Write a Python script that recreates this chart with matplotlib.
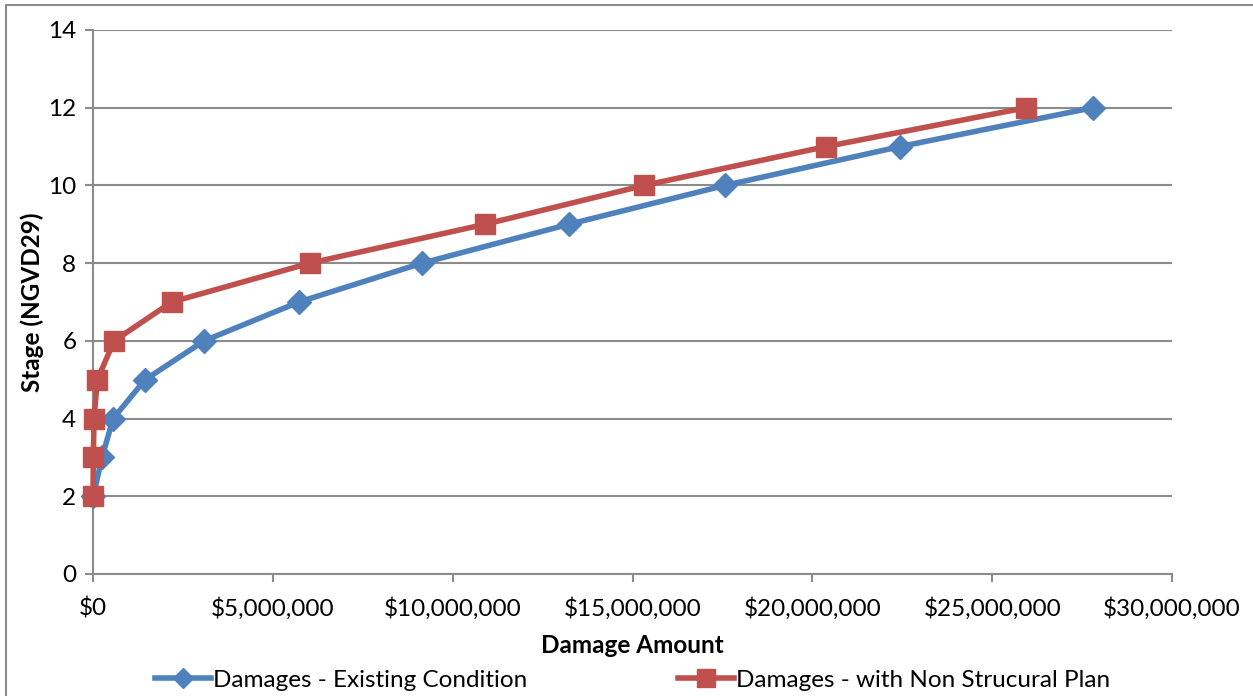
import matplotlib
matplotlib.use('Agg')
import matplotlib.pyplot as plt
from matplotlib.ticker import FuncFormatter, MultipleLocator
from matplotlib.patches import Rectangle

# stage-damage curves
stage = [2, 3, 4, 5, 6, 7, 8, 9, 10, 11, 12]
damage_existing = [10000, 250000, 560000, 1450000, 3090000, 5730000,
                   9150000, 13230000, 17570000, 22440000, 27800000]
damage_nonstruct = [0, 10000, 30000, 120000, 590000, 2190000,
                    6030000, 10900000, 15320000, 20380000, 25940000]

plt.rcParams['font.family'] = ['Lato', 'DejaVu Sans']
FS = 17.5

fig = plt.figure(figsize=(12.53, 6.96), dpi=100)
ax = fig.add_axes([0.0742, 0.1753, 0.9354 - 0.0742, 0.9569 - 0.1753])

# chart frame
fig.patches.append(Rectangle((6 / 1253, -0.1), 1.2, 0.1 + (696 - 5) / 696,
                             transform=fig.transFigure, fill=False,
                             edgecolor='#8c8c8c', linewidth=1.5))

ax.plot(damage_existing, stage, color='#4F81BD', linewidth=4, marker='D',
        markersize=12, label='Damages - Existing Condition', zorder=3,
        clip_on=False)
ax.plot(damage_nonstruct, stage, color='#C0504D', linewidth=4, marker='s',
        markersize=14.5, label='Damages - with Non Strucural Plan', zorder=4,
        clip_on=False)

ax.set_xlim(0, 30000000)
ax.set_ylim(0, 14)
ax.xaxis.set_major_locator(MultipleLocator(5000000))
ax.yaxis.set_major_locator(MultipleLocator(2))
ax.xaxis.set_major_formatter(FuncFormatter(lambda v, p: '${:,.0f}'.format(v)))

ax.yaxis.grid(True, color='#8c8c8c', linewidth=1.5)
ax.set_axisbelow(True)
for s in ['top', 'right']:
    ax.spines[s].set_visible(False)
for s in ['left', 'bottom']:
    ax.spines[s].set_color('#8c8c8c')
    ax.spines[s].set_linewidth(1.5)
ax.tick_params(axis='both', direction='out', length=6, width=1.5,
               color='#8c8c8c', labelsize=FS, pad=6)
ax.tick_params(axis='x', pad=11)

ax.set_xlabel('Damage Amount', fontsize=FS, fontweight='bold', labelpad=10)
ax.set_ylabel('Stage (NGVD29)', fontsize=FS, fontweight='bold', labelpad=3)

leg = ax.legend(loc='upper center', bbox_to_anchor=(0.5, -0.158), ncol=2,
                frameon=False, fontsize=FS, handlelength=2.3,
                handletextpad=0.1, columnspacing=6.2, borderaxespad=0,
                markerscale=0.85)

fig.savefig('out.png', dpi=100)
